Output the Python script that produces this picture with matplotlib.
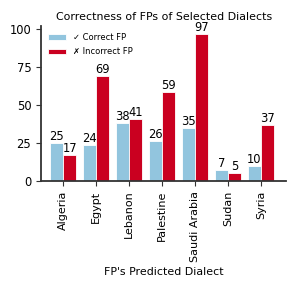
import numpy as np
import matplotlib
matplotlib.use("Agg")
import matplotlib.pyplot as plt

dialects = ["Algeria", "Egypt", "Lebanon", "Palestine", "Saudi Arabia", "Sudan", "Syria"]
correct = [25, 24, 38, 26, 35, 7, 10]
incorrect = [17, 69, 41, 59, 97, 5, 37]

x = np.arange(len(dialects))
w = 0.4

fig = plt.figure(figsize=(2.95, 2.88), dpi=100)
ax = fig.add_axes([0.139, 0.372, 0.832, 0.538])

b1 = ax.bar(x - w / 2, correct, w, color="#92c5de", edgecolor="white", linewidth=0.6, label="✓ Correct FP")
b2 = ax.bar(x + w / 2, incorrect, w, color="#ca0020", edgecolor="white", linewidth=0.6, label="✗ Incorrect FP")
ax.bar_label(b1, fontsize=8.3, padding=0)
ax.bar_label(b2, fontsize=8.3, padding=0)

ax.set_xticks(x)
ax.set_xticklabels(dialects, rotation=90, fontsize=8)
ax.set_yticks([0, 25, 50, 75, 100])
ax.tick_params(axis="y", labelsize=8.3, length=3.5, color="#333333")
ax.tick_params(axis="x", length=3.5, color="#333333")
ax.set_xlim(-0.67, 6.77)
ax.set_ylim(0, 102.3)

for s in ["top", "right"]:
    ax.spines[s].set_visible(False)
for s in ["left", "bottom"]:
    ax.spines[s].set_color("#333333")
    ax.spines[s].set_linewidth(1.3)

ax.set_title("Correctness of FPs of Selected Dialects", fontsize=7.9, pad=4)
ax.set_xlabel("FP's Predicted Dialect", fontsize=7.9)
ax.legend(loc="upper left", frameon=False, fontsize=6, handlelength=2.2,
          borderaxespad=0.4, labelspacing=0.7)

fig.savefig("out.png", dpi=100)
